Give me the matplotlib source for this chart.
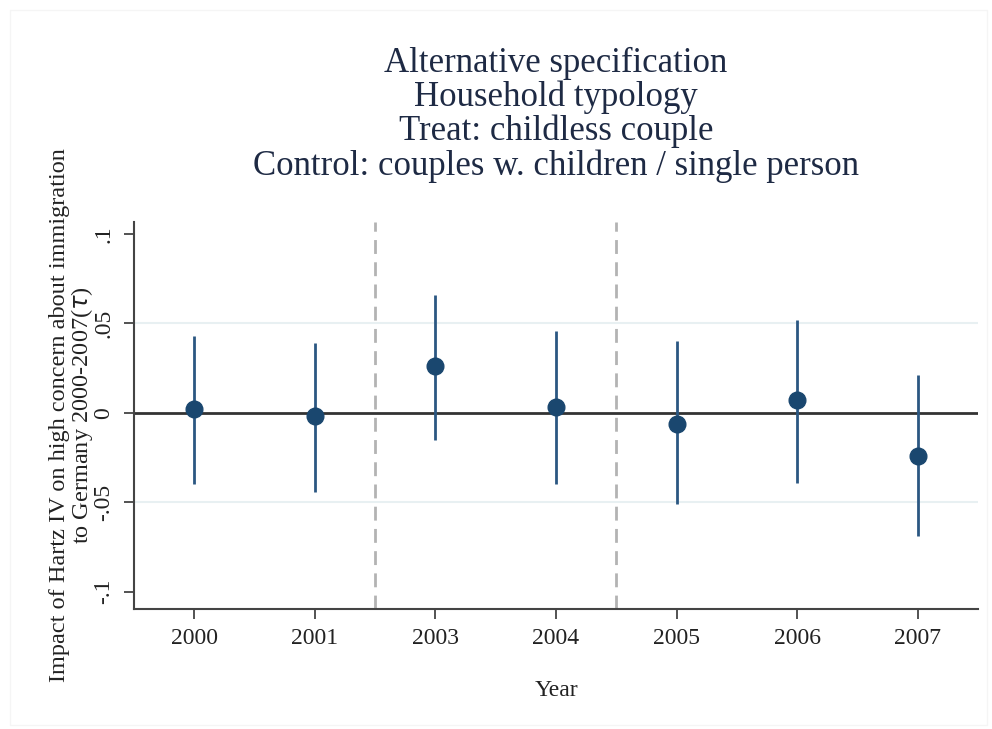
import matplotlib
matplotlib.use("Agg")
import matplotlib.pyplot as plt
from matplotlib.patches import Rectangle

# data
years = ["2000", "2001", "2003", "2004", "2005", "2006", "2007"]
coef = [0.002, -0.002, 0.026, 0.003, -0.006, 0.007, -0.024]
ci_low = [-0.040, -0.044, -0.015, -0.040, -0.051, -0.039, -0.069]
ci_high = [0.043, 0.039, 0.066, 0.046, 0.040, 0.052, 0.021]
yticks = [-0.1, -0.05, 0, 0.05, 0.1]
ytick_labels = ["-.1", "-.05", "0", ".05", ".1"]
vlines = [2.5, 4.5]

plt.rcParams['font.family'] = ['Liberation Serif', 'DejaVu Serif']

fig = plt.figure(figsize=(9.92, 7.29), dpi=100)
ax = fig.add_axes([0.135, 0.165, 0.851, 0.5305])

# faint outer frame
fig.patches.append(Rectangle((0.010, 0.006), 0.985, 0.980, transform=fig.transFigure,
                             fill=False, edgecolor='#f5f5f5', linewidth=1.0))

x = list(range(1, len(years) + 1))

# grid lines
for g in [-0.05, 0.05]:
    ax.axhline(g, color='#e8f0f2', linewidth=1.5, zorder=0)

ax.axhline(0, color='#333333', linewidth=2, zorder=1)
for v in vlines:
    ax.axvline(v, color='#b3b3b3', linewidth=2, linestyle=(0, (5, 3)), zorder=1)

ax.vlines(x, ci_low, ci_high, color='#2b5782', linewidth=2, zorder=2)
ax.plot(x, coef, 'o', color='#1a476f', markersize=12, zorder=3)

ax.set_xlim(0.5, 7.5)
ax.set_ylim(-0.1095, 0.1067)
ax.set_xticks(x)
ax.set_xticklabels(years, fontsize=17, color='#222222')
ax.set_yticks(yticks)
ax.set_yticklabels(ytick_labels, fontsize=17, rotation=90, va='center', color='#222222')

ax.tick_params(axis='both', length=7, width=1.3, color='#444444', pad=7)

for s in ['top', 'right']:
    ax.spines[s].set_visible(False)
for s in ['left', 'bottom']:
    ax.spines[s].set_color('#444444')
    ax.spines[s].set_linewidth(1.5)

ax.set_xlabel("Year", fontsize=17, color='#222222', labelpad=22)
ax.set_ylabel("Impact of Hartz IV on high concern about immigration\nto Germany 2000-2007($\\tau$)",
              fontsize=17.5, color='#222222', labelpad=-1, linespacing=0.95)

ax.set_title("Alternative specification\nHousehold typology\nTreat: childless couple\n"
             "Control: couples w. children / single person",
             fontsize=25, color='#1e2a44', linespacing=1.03, pad=34)

fig.savefig("out.png", dpi=100, facecolor='white')
